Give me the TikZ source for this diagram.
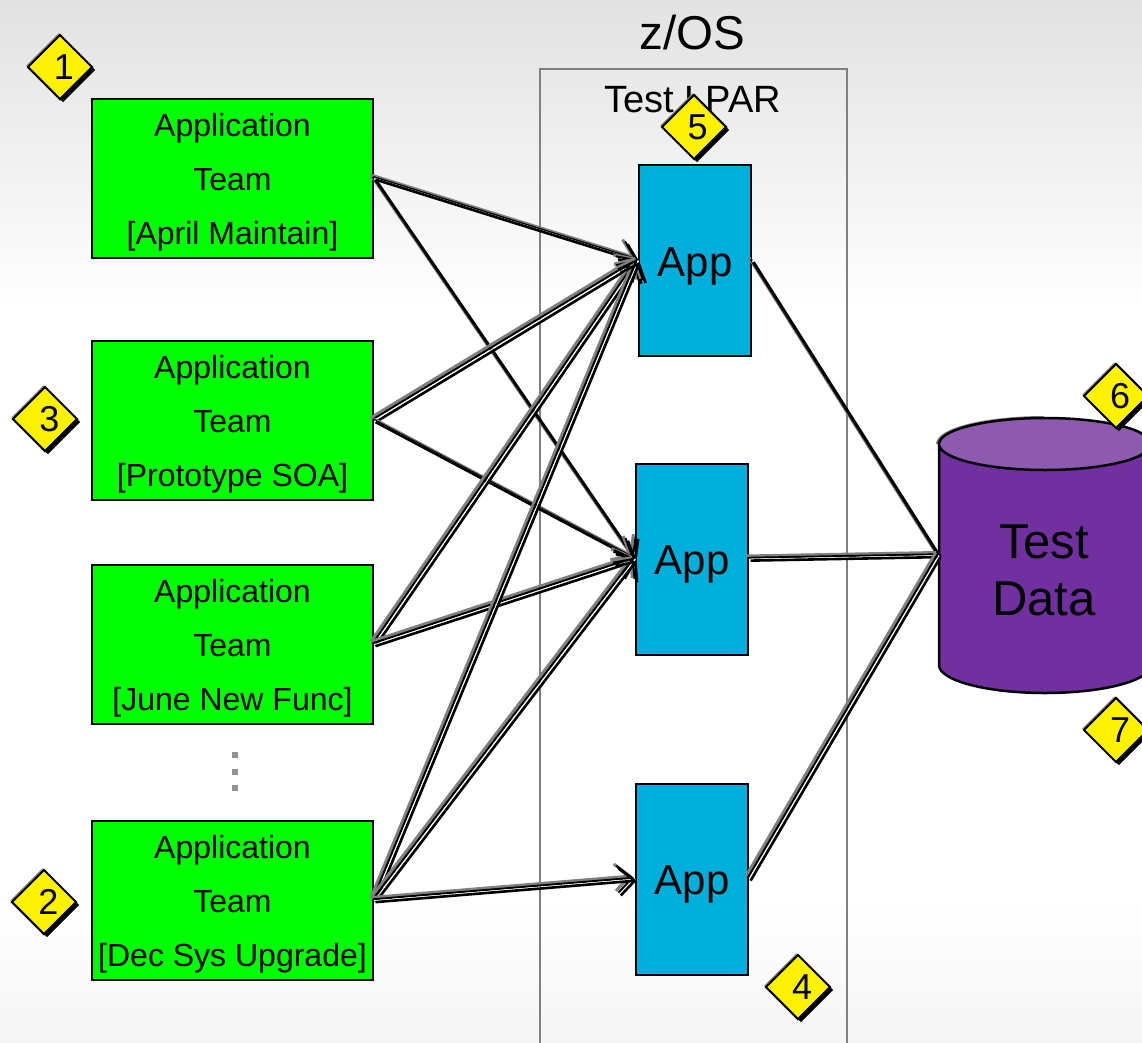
\documentclass[tikz,border=0pt]{standalone}
\usepackage{fontspec}
\setmainfont{Liberation Sans}
\usetikzlibrary{arrows.meta,shapes.geometric,shadows}
\definecolor{appblue}{RGB}{0,175,220}
\definecolor{dbpurple}{RGB}{112,48,160}
\definecolor{dbtop}{RGB}{141,90,176}
\tikzset{
  x=1pt,y=-1pt,
  team/.style={draw=black,line width=2pt,fill=green,minimum width=281pt,minimum height=159pt,inner sep=0pt,align=center,font=\fontsize{32}{54}\selectfont},
  appbox/.style={draw=black,line width=2pt,fill=appblue,minimum width=112pt,minimum height=191pt,inner sep=0pt,font=\fontsize{42}{50}\selectfont},
  dia/.style={diamond,aspect=1,draw=black,line width=2pt,fill=yellow,minimum size=65pt,inner sep=0pt,
    general shadow={shadow xshift=3pt,shadow yshift=-3pt,fill=black},
    general shadow={shadow xshift=-1.5pt,shadow yshift=1.5pt,fill=gray},
    font=\fontsize{36}{40}\selectfont},
  anchorbox/.style={minimum width=212pt,minimum height=275pt,inner sep=0pt},
  lgray/.style={draw=gray,line width=3pt,-{Straight Barb[length=15pt,width=27pt]},transform canvas={shift={(-3pt,3pt)}}},
  lblack/.style={draw=black,line width=2pt,-{Straight Barb[length=15pt,width=27pt]},transform canvas={shift={(-1.2pt,1.2pt)}}},
  lwhite/.style={draw=white,line width=1.2pt,transform canvas={shift={(.3pt,-.3pt)}}},
  lfront/.style={draw=black,line width=2.6pt,-{Straight Barb[length=15pt,width=27pt]},transform canvas={shift={(1.6pt,-1.6pt)}}},
  pgray/.style={draw=gray,line width=3pt,transform canvas={shift={(-3pt,3pt)}}},
  pblack/.style={draw=black,line width=2pt,transform canvas={shift={(-1.2pt,1.2pt)}}},
  pfront/.style={draw=black,line width=2.6pt,transform canvas={shift={(1.6pt,-1.6pt)}}},
}
\newcommand{\arrowconn}[2]{%
  \draw[lgray] (#1) -- (#2);
  \draw[lblack] (#1) -- (#2);
  \draw[lwhite] (#1) -- (#2);
  \draw[lfront] (#1) -- (#2);
}
\newcommand{\plainconn}[2]{%
  \draw[pgray] (#1) -- (#2);
  \draw[pblack] (#1) -- (#2);
  \draw[lwhite] (#1) -- (#2);
  \draw[pfront] (#1) -- (#2);
}
\newcommand{\teamtext}[1]{\rule{0pt}{31pt}Application\\Team\\{[#1]}}
\newcommand{\apptext}{\rule{0pt}{40pt}App}
\begin{document}
\begin{tikzpicture}
\useasboundingbox (0,0) rectangle (1142,1042);
\begin{scope}
\clip (0,0) rectangle (1142,1042);
% background
\fill[white] (0,0) rectangle (1142,1042);
\shade[top color={rgb,255:red,226;green,226;blue,226},bottom color=white] (0,0) rectangle (1142,310);
\shade[top color=white,bottom color={rgb,255:red,245;green,245;blue,245}] (0,900) rectangle (1142,1042);
% LPAR frame
\draw[gray,line width=2pt] (540,1060) -- (540,69) -- (847,69) -- (847,1060);
\node[font=\fontsize{47.5}{50}\selectfont] (zos) at (692.5,33) {z/OS};
\node[font=\fontsize{38}{40}\selectfont] (lpar) at (692.5,100) {Test LPAR};
% teams
\node[team] (t1) at (232.5,178) {\teamtext{April Maintain}};
\node[team] (t3) at (232.5,420.5) {\teamtext{Prototype SOA}};
\node[team] (t6) at (232.5,644.5) {\teamtext{June New Func}};
\node[team] (t12) at (232.5,900.5) {\teamtext{Dec Sys Upgrade}};
% dots
\fill[gray!85] (231.5,752) rectangle (237.5,758);
\fill[gray!85] (231.5,769) rectangle (237.5,775);
\fill[gray!85] (231.5,785) rectangle (237.5,791);
% apps
\node[appbox] (a1) at (695,260.5) {\apptext};
\node[appbox] (a2) at (692,559) {\apptext};
\node[appbox] (a3) at (692,879) {\apptext};
% database
\node[anchorbox] (data) at (1045,555.5) {};
\draw[gray,line width=2pt] (937,444) arc[start angle=180,end angle=270,x radius=107,y radius=27];
\path[fill=dbpurple,draw=black,line width=2.5pt] (939,444) -- (939,665) arc[start angle=180,end angle=0,x radius=106,y radius=28] -- (1151,444);
\path[fill=dbtop,draw=black,line width=2.5pt] (1045,444) ellipse[x radius=106,y radius=26];
\node[align=center,font=\fontsize{49}{57}\selectfont] (datatext) at (1044,570) {Test\\Data};
% connectors
\arrowconn{t1.east}{a1.west}
\arrowconn{t1.east}{a2.west}
\arrowconn{t3.east}{a1.west}
\arrowconn{t3.east}{a2.west}
\arrowconn{t6.east}{a1.west}
\arrowconn{t6.east}{a2.west}
\arrowconn{t12.east}{a1.west}
\arrowconn{t12.east}{a2.west}
\arrowconn{t12.east}{a3.west}
\plainconn{a1.east}{data.west}
\plainconn{a2.east}{data.west}
\plainconn{a3.east}{data.west}
% badges
\node[dia] (d1) at (60,67) {\hspace*{8pt}1};
\node[dia] (d3) at (45,419) {\hspace*{9pt}3};
\node[dia] (d2) at (44,902) {\hspace*{9pt}2};
\node[dia] (d4) at (798,987) {\hspace*{8pt}4};
\node[dia] (d5) at (694,127) {\hspace*{7pt}5};
\node[dia] (d6) at (1116,396) {\hspace*{8pt}6};
\node[dia] (d7) at (1116,730) {\hspace*{8pt}7};
\end{scope}
\end{tikzpicture}
\end{document}
